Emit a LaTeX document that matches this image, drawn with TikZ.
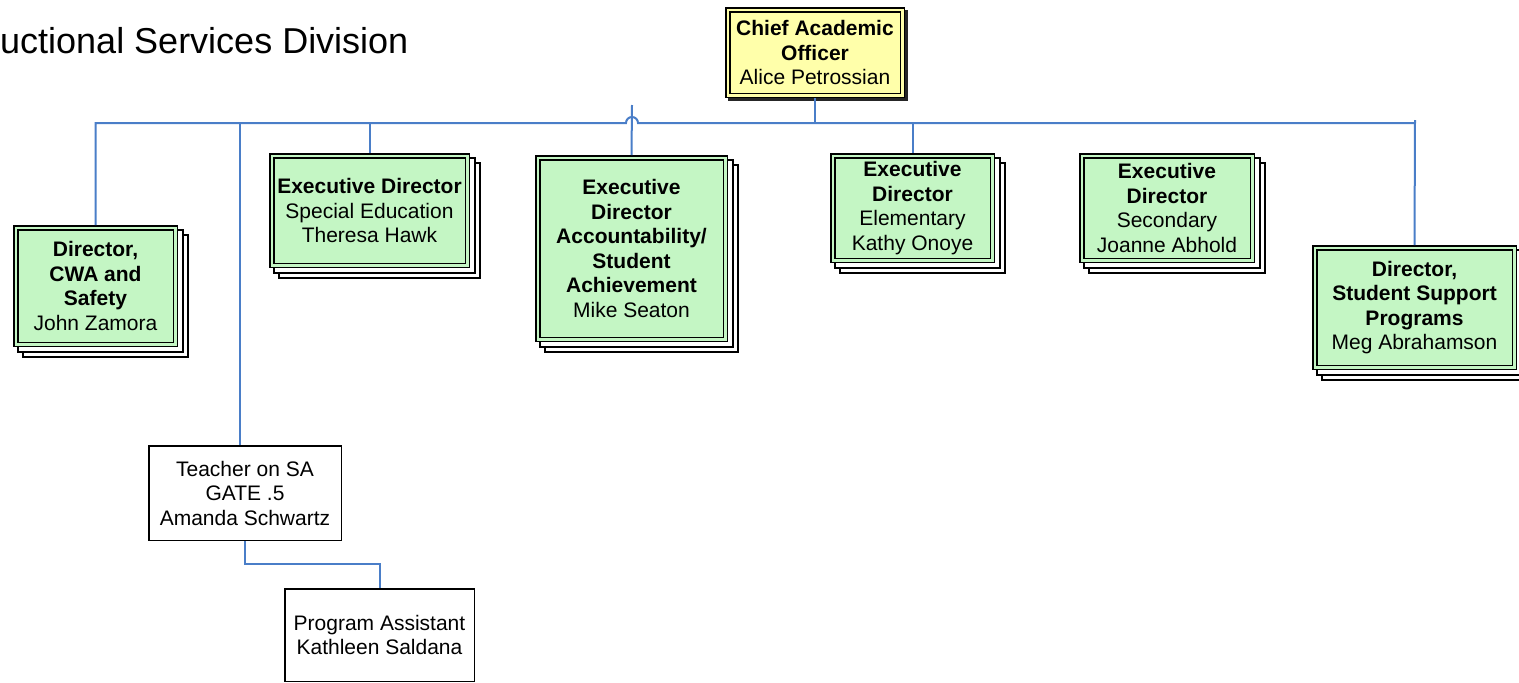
\documentclass[tikz,border=0pt]{standalone}
\usepackage{fontspec}
\setmainfont{Liberation Sans}
\usetikzlibrary{calc}
\pgfdeclarelayer{bg}
\pgfsetlayers{bg,main}
\definecolor{connblue}{RGB}{74,126,200}
\definecolor{gfill}{RGB}{196,246,196}
\definecolor{yfill}{RGB}{255,255,170}
\tikzset{
  conn/.style={draw=connblue, line width=2pt},
  lbl/.style={font=\fontsize{21}{24.5}\selectfont, align=center, inner sep=0pt},
  dbox/.style={lbl, rectangle, draw=black, line width=1.5pt, double distance=2.5pt, outer sep=2.75pt},
  gbox/.style={dbox, double=gfill, fill=gfill},
  ybox/.style={dbox, double=yfill, fill=yfill},
  pbox/.style={lbl, rectangle, draw=black, line width=1.5pt, fill=white, outer sep=0.75pt},
  layerA/.style={draw=black, line width=1.8pt, fill=white},
  layerB/.style={draw=black, line width=2.2pt, fill=white},
  shadowbox/.style={fill=black!85},
}
\newcommand\drawstack[1]{%
  \begin{pgfonlayer}{bg}
    \draw[layerB] ($(#1.south west)+(10,10)$) rectangle ($(#1.north east)+(10,10)$);
    \draw[layerA] ($(#1.south west)+(5,5)$) rectangle ($(#1.north east)+(5,5)$);
  \end{pgfonlayer}}
\begin{document}
\begin{tikzpicture}[x=1pt,y=-1pt]
\useasboundingbox (0,0) rectangle (1519,683);

\node[anchor=base west, font=\fontsize{36}{40}\selectfont, inner sep=0pt] (title) at (0,53) {uctional Services Division};

\node[ybox, minimum width=174.5pt, minimum height=85.5pt] (cao) at (815,52.5)
  {\textbf{Chief Academic}\\\textbf{Officer}\\Alice Petrossian};
\begin{pgfonlayer}{bg}
  \fill[shadowbox] ($(cao.south west)+(3,3)$) rectangle ($(cao.north east)+(3,3)$);
\end{pgfonlayer}

\node[gbox, minimum width=159.5pt, minimum height=116.5pt] (cwa) at (95.5,286)
  {\textbf{Director,}\\\textbf{CWA and}\\\textbf{Safety}\\John Zamora};
\drawstack{cwa}

\node[gbox, minimum width=195.5pt, minimum height=109.5pt] (sped) at (369.5,210.5)
  {\textbf{Executive Director}\\Special Education\\Theresa Hawk};
\drawstack{sped}

\node[gbox, minimum width=187.5pt, minimum height=181.5pt] (acc) at (631.5,248.5)
  {\textbf{Executive}\\\textbf{Director}\\\textbf{Accountability/}\\\textbf{Student}\\\textbf{Achievement}\\Mike Seaton};
\drawstack{acc}

\node[gbox, minimum width=159.5pt, minimum height=104.5pt] (elem) at (912.5,208)
  {\textbf{Executive}\\\textbf{Director}\\Elementary\\Kathy Onoye};
\drawstack{elem}

\node[gbox, minimum width=170.5pt, minimum height=104.5pt] (sec) at (1167,208)
  {\textbf{Executive}\\\textbf{Director}\\Secondary\\Joanne Abhold};
\drawstack{sec}

\node[gbox, minimum width=199.5pt, minimum height=119.5pt] (ssp) at (1414.5,307.5)
  {\textbf{Director,}\\\textbf{Student Support}\\\textbf{Programs}\\Meg Abrahamson};
\drawstack{ssp}

\node[pbox, minimum width=192.5pt, minimum height=94.5pt] (tsa) at (245,493)
  {Teacher on SA\\GATE .5\\Amanda Schwartz};

\node[pbox, minimum width=189.5pt, minimum height=92.5pt] (pa) at (379.5,635)
  {Program Assistant\\Kathleen Saldana};

% connectors
\coordinate (busL) at (96,123);
\coordinate (busR) at (1415,123);
\coordinate (hopL) at (626,123);
\coordinate (accTop) at (632,105);
\coordinate (sspTop) at (1415,120);
\coordinate (tsaTop) at (240,445);

\draw[conn] (cwa.north) -- (cwa.north |- busL) -- (hopL)
  arc[start angle=180, end angle=0, radius=6pt] -- (busR);
\draw[conn] (sspTop) -- (ssp.north);
\draw[conn] (cao.south) -- (cao.south |- busL);
\draw[conn] (tsaTop |- busL) -- (tsaTop);
\draw[conn] (sped.north |- busL) -- (sped.north);
\draw[conn] (accTop) -- (acc.north);
\draw[conn] (elem.north |- busL) -- (elem.north);
\draw[conn] (tsa.south) -- ++(0,23) -| (pa.north);
\end{tikzpicture}
\end{document}
